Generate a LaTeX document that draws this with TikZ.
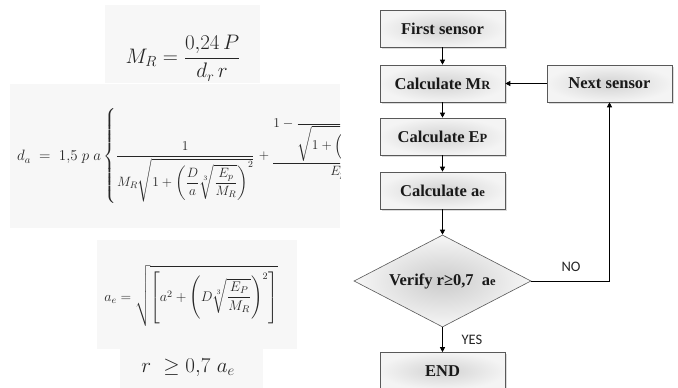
\RequirePackage{fix-cm}
\documentclass[tikz,border=0pt]{standalone}
\usepackage{amsmath}
\usepackage{fontspec}
\newfontfamily\boxfont{Liberation Serif}
\newfontfamily\labelfont{Carlito}
\usetikzlibrary{shapes.geometric,arrows.meta,shadows}
\tikzset{
  flowbox/.style={rectangle, draw=black!65, line width=0.6pt,
    minimum width=125pt, minimum height=37pt, inner sep=0pt,
    shading=radial, inner color=gray!35, outer color=gray!9,
    drop shadow={shadow xshift=1.5pt, shadow yshift=-1.5pt, fill=gray!55},
    font=\boxfont\bfseries\fontsize{16.5}{18}\selectfont, text=black!90},
  decbox/.style={diamond, draw=black!65, line width=0.6pt,
    minimum width=177pt, minimum height=92pt, inner sep=0pt, aspect=1.92,
    shading=radial, inner color=gray!40, outer color=gray!7,
    font=\boxfont\bfseries\fontsize{16.5}{18}\selectfont, text=black!90},
  conn/.style={draw=black, line width=0.8pt, -{Triangle[length=5pt,width=5pt]}},
  lbl/.style={font=\labelfont\fontsize{14.5}{16}\selectfont, text=black!85},
  eqbg/.style={fill=black!3, draw=none},
  eq/.style={inner sep=0pt, text=black!85}
}
\newcommand{\smallsub}[1]{{\fontsize{12.5}{14}\selectfont #1}}
\begin{document}
\begin{tikzpicture}[x=1pt,y=-1pt]
\useasboundingbox (0,0) rectangle (678,388);
\fill[white] (0,0) rectangle (678,388);
% equation backgrounds
\fill[eqbg] (105,5) rectangle (260,83);
\fill[eqbg] (10,84) rectangle (340,228);
\fill[eqbg] (97,240) rectangle (297,349);
\fill[eqbg] (120,349) rectangle (263,388);
% equations
\node[eq] (eqone) at (183,58) {\fontsize{21}{25}\selectfont $M_R = \dfrac{0{,}24\,P}{d_r\,r}$};
\node[eq, anchor=west] (eqtwoa) at (17,157) {\fontsize{15}{18}\selectfont
$d_a \;=\; 1{,}5\;p\;a$};
\begin{scope}
\clip (0,84) rectangle (340,228);
\node[eq, anchor=west] (eqtwob) at (103,156) {\fontsize{13.5}{16}\selectfont
$\displaystyle \left\{\frac{1}{M_R\sqrt{1+\left(\dfrac{D}{a}\sqrt[3]{\dfrac{E_p}{M_R}}\right)^{2}}}\right.+\raisebox{-7pt}{$\displaystyle\frac{1-\dfrac{1}{\sqrt{1+\left(\frac{D}{a}\sqrt[3]{\frac{E_p}{M_R}}\right)^{2}}}}{E_p}$}$};
\end{scope}
\node[eq] (eqthree) at (191,296) {\fontsize{14}{17}\selectfont
$\displaystyle a_e = \sqrt{\left[a^2+\left(D\sqrt[3]{\frac{E_P}{M_R}}\right)^{2}\right]}$};
\node[eq] (eqfour) at (188,368) {\fontsize{21}{25}\selectfont $r\ \geq 0{,}7\ a_e$};
% flowchart
\node[flowbox] (first) at (442.5,28.5) {First sensor};
\node[flowbox] (mr) at (442.5,83.5) {Calculate M\smallsub{R}};
\node[flowbox] (next) at (609.5,83.5) {Next sensor};
\node[flowbox] (ep) at (442.5,136.5) {Calculate E\smallsub{P}};
\node[flowbox] (ae) at (442.5,190.5) {Calculate a\smallsub{e}};
\node[decbox] (dec) at (442.5,281) {Verify r≥0,7 \ a\smallsub{e}};
\node[flowbox] (end) at (442.5,371) {END};
\draw[conn] (first) -- (mr);
\draw[conn] (mr) -- (ep);
\draw[conn] (ep) -- (ae);
\draw[conn] (ae) -- (dec);
\draw[conn] (dec) -- (end);
\draw[conn] (next) -- (mr);
\draw[conn] (dec.east) -| (next.south);
\node[lbl] (no) at (571,267) {NO};
\node[lbl] (yes) at (472,340) {YES};
\end{tikzpicture}
\end{document}
